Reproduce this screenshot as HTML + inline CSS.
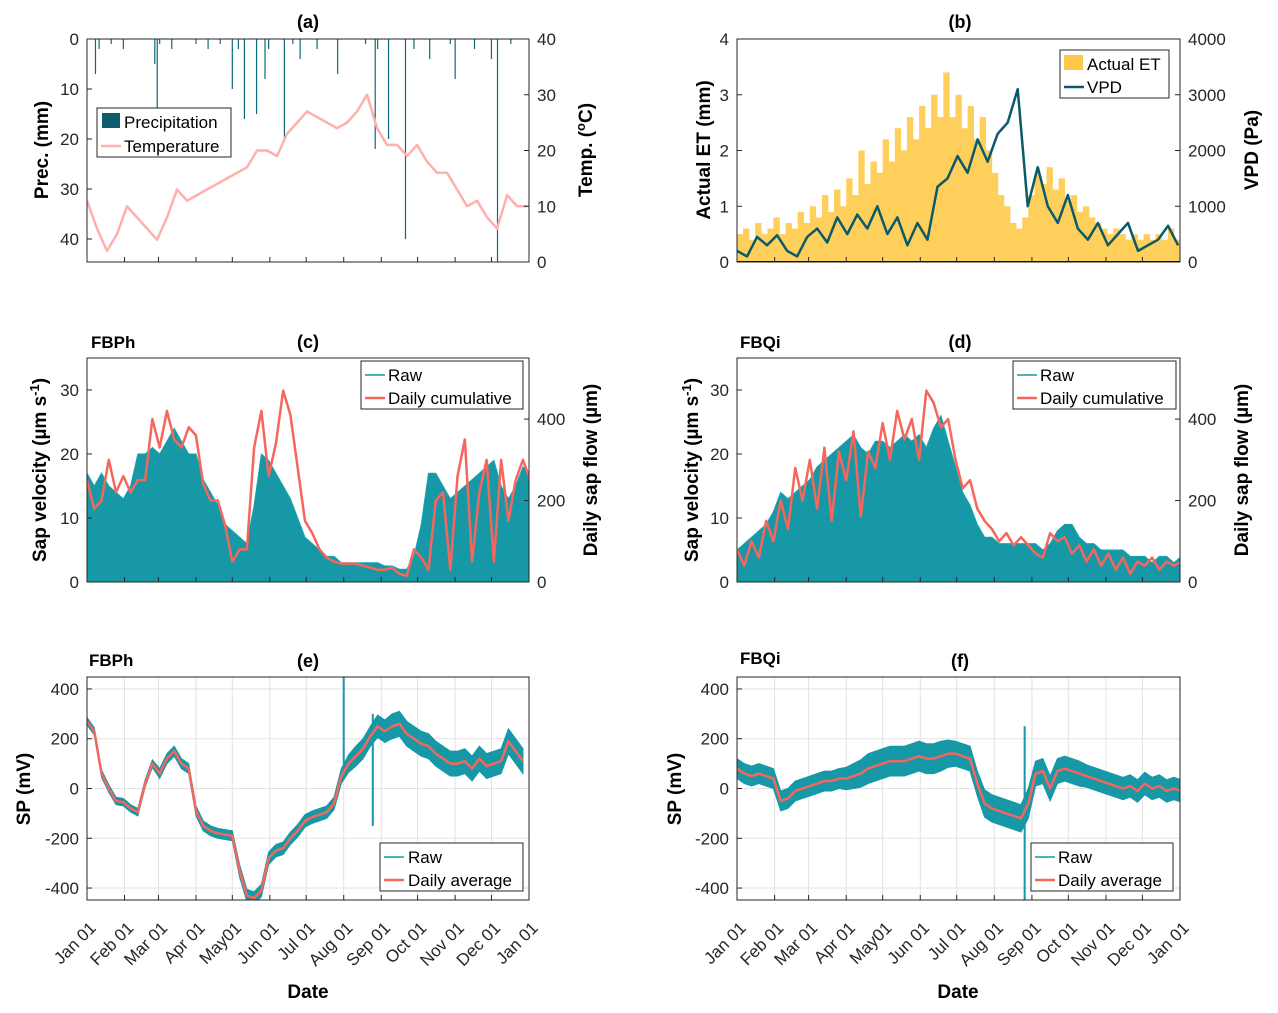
<!DOCTYPE html>
<html><head><meta charset="utf-8">
<style>
body{margin:0;background:#fff;}
svg{display:block;font-family:"Liberation Sans",sans-serif;}
.tk{font-size:17px;fill:#262626;}
.at{font-size:19px;font-weight:bold;fill:#000;}
.tt{font-size:18px;font-weight:bold;fill:#000;}
.lg{font-size:17px;fill:#000;}
</style></head>
<body>
<svg id="fig" width="1278" height="1013" viewBox="0 0 1278 1013">
<g id="layer-marks"></g>
<g id="layer-axes"></g>
<g>
<text class="tt" x="308" y="28" text-anchor="middle">(a)</text>
<text class="tt" x="960" y="28" text-anchor="middle">(b)</text>
<text class="tt" x="308" y="348" text-anchor="middle">(c)</text>
<text class="tt" x="960" y="348" text-anchor="middle">(d)</text>
<text class="tt" x="308" y="667" text-anchor="middle">(e)</text>
<text class="tt" x="960" y="667" text-anchor="middle">(f)</text>
<text class="tt" x="91" y="348" style="font-size:17px">FBPh</text>
<text class="tt" x="740" y="348" style="font-size:17px">FBQi</text>
<text class="tt" x="89" y="666" style="font-size:17px">FBPh</text>
<text class="tt" x="740" y="664" style="font-size:17px">FBQi</text>
</g>
<g>
<text class="at" transform="translate(48,150) rotate(-90)" text-anchor="middle">Prec. (mm)</text>
<text class="at" transform="translate(592,150) rotate(-90)" text-anchor="middle">Temp. (<tspan baseline-shift="super" font-size="13">o</tspan>C)</text>
<text class="at" transform="translate(710,150) rotate(-90)" text-anchor="middle">Actual ET (mm)</text>
<text class="at" transform="translate(1258,150) rotate(-90)" text-anchor="middle">VPD (Pa)</text>
<text class="at" transform="translate(46,470) rotate(-90)" text-anchor="middle">Sap velocity (µm s<tspan baseline-shift="super" font-size="13">-1</tspan>)</text>
<text class="at" transform="translate(597,470) rotate(-90)" text-anchor="middle">Daily sap flow (µm)</text>
<text class="at" transform="translate(698,470) rotate(-90)" text-anchor="middle">Sap velocity (µm s<tspan baseline-shift="super" font-size="13">-1</tspan>)</text>
<text class="at" transform="translate(1248,470) rotate(-90)" text-anchor="middle">Daily sap flow (µm)</text>
<text class="at" transform="translate(30,789) rotate(-90)" text-anchor="middle">SP (mV)</text>
<text class="at" transform="translate(681,789) rotate(-90)" text-anchor="middle">SP (mV)</text>
<text class="at" x="308" y="998" text-anchor="middle">Date</text>
<text class="at" x="958" y="998" text-anchor="middle">Date</text>
</g>
<g>
<rect x="97" y="108" width="134" height="49" fill="#fff" stroke="#262626"/>
<rect x="102" y="113" width="18" height="15" fill="#0d5c6b"/>
<text class="lg" x="124" y="128">Precipitation</text>
<line x1="101" y1="146" x2="121" y2="146" stroke="#ffb0ac" stroke-width="2.5"/>
<text class="lg" x="124" y="152">Temperature</text>
</g>
<g>
<rect x="1060" y="50" width="109" height="48" fill="#fff" stroke="#262626"/>
<rect x="1064" y="55" width="19" height="15" fill="#ffc84a"/>
<text class="lg" x="1087" y="70">Actual ET</text>
<line x1="1064" y1="87" x2="1084" y2="87" stroke="#0b5a69" stroke-width="2.5"/>
<text class="lg" x="1087" y="93">VPD</text>
</g>
<g>
<rect x="361" y="361" width="162" height="48" fill="#fff" stroke="#262626"/>
<line x1="365" y1="375" x2="385" y2="375" stroke="#1698a6" stroke-width="1.5"/>
<text class="lg" x="388" y="381">Raw</text>
<line x1="365" y1="398" x2="385" y2="398" stroke="#f5665c" stroke-width="2.5"/>
<text class="lg" x="388" y="404">Daily cumulative</text>
</g>
<g>
<rect x="1013" y="361" width="163" height="48" fill="#fff" stroke="#262626"/>
<line x1="1017" y1="375" x2="1037" y2="375" stroke="#1698a6" stroke-width="1.5"/>
<text class="lg" x="1040" y="381">Raw</text>
<line x1="1017" y1="398" x2="1037" y2="398" stroke="#f5665c" stroke-width="2.5"/>
<text class="lg" x="1040" y="404">Daily cumulative</text>
</g>
<g>
<rect x="380" y="843" width="143" height="48" fill="#fff" stroke="#262626"/>
<line x1="384" y1="857" x2="404" y2="857" stroke="#1698a6" stroke-width="1.5"/>
<text class="lg" x="408" y="863">Raw</text>
<line x1="384" y1="880" x2="404" y2="880" stroke="#f5665c" stroke-width="2.5"/>
<text class="lg" x="408" y="886">Daily average</text>
</g>
<g>
<rect x="1031" y="843" width="142" height="48" fill="#fff" stroke="#262626"/>
<line x1="1035" y1="857" x2="1055" y2="857" stroke="#1698a6" stroke-width="1.5"/>
<text class="lg" x="1058" y="863">Raw</text>
<line x1="1035" y1="880" x2="1055" y2="880" stroke="#f5665c" stroke-width="2.5"/>
<text class="lg" x="1058" y="886">Daily average</text>
</g>
</svg>
<script>
// ---------- data ----------
const monthDays = [0,31,59,90,120,151,181,212,243,273,304,334,365];
const monthLabels = ["Jan 01","Feb 01","Mar 01","Apr 01","May01","Jun 01","Jul 01","Aug 01","Sep 01","Oct 01","Nov 01","Dec 01","Jan 01"];
const precTicks = [0,10,20,30,40];
const tempTicks = [0,10,20,30,40];
const etTicks = [0,1,2,3,4];
const vpdTicks = [0,1000,2000,3000,4000];
const sapTicks = [0,10,20,30];
const flowTicks = [0,200,400];
const spTicks = [-400,-200,0,200,400];

const precDays = [7,10,20,30,56,58,60,70,90,100,110,120,125,130,140,147,150,163,170,176,190,207,230,238,240,249,263,270,283,300,304,320,334,339,350];
const precVals = [7,2,1,2,5,14,1,2,1,2,1,10,2,16,15,8,2,20,1,4,2,7,1,22,2,20,40,2,4,1,8,2,4,45,1];

const tempStep = 8.26;
const tempVals = [11,6,2,5,10,8,6,4,8,13,11,12,13,14,15,16,17,20,20,19,23,25,27,26,25,24,25,27,30,24,21,21,19,21,18,16,16,13,10,11,8,6,12,10,10];

const etStep = 5;
const etVals = [0.5,0.6,0.4,0.7,0.5,0.6,0.8,0.5,0.7,0.6,0.9,0.7,1.0,0.8,1.2,0.9,1.3,1.0,1.5,1.2,2.0,1.4,1.8,1.6,2.2,1.8,2.4,2.0,2.6,2.2,2.8,2.4,3.0,2.6,3.4,2.6,3.0,2.4,2.8,2.2,2.6,2.0,1.6,1.2,1.0,0.7,0.6,0.8,1.2,1.6,1.4,1.7,1.3,1.5,1.1,1.2,0.9,1.0,0.8,0.7,0.6,0.5,0.6,0.5,0.4,0.5,0.4,0.5,0.4,0.5,0.4,0.6,0.4,0.5];

const vpdStep = 8.26;
const vpdVals = [200,100,450,300,480,200,100,450,600,350,800,500,850,600,1000,500,800,300,700,400,1350,1500,1900,1600,2200,1800,2300,2500,3100,1000,1700,1000,700,1200,600,400,700,300,500,700,200,300,400,650,300];

const sapStep = 6;
const sapRawC = [17,15,17,15,14,13,15,20,20,21,20,22,24,22,20,20,16,14,12,9,8,7,6,12,20,19,17,15,13,10,7,6,5,4,4,3,3,3,3,3,3,2.5,2.5,2,2,4,9,17,17,15,13,14,15,16,17,18,19,15,13,15,18,17];
const sapCumC = [250,180,200,300,220,260,220,250,250,400,330,420,350,330,380,360,240,200,200,140,50,80,80,330,420,260,340,470,410,280,150,120,80,60,50,45,45,45,40,35,30,30,35,20,15,80,60,30,200,220,30,260,350,50,220,300,50,300,150,250,300,250];
const sapRawD = [5,6,7,8,9,11,14,13,14,15,16,18,19,20,21,22,23,21,20,22,22,21,22,23,22,23,21,24,26,22,18,14,12,9,7,7,6,6,6,6,6,6,5,6,8,9,9,7,6,6,5,5,5,5,4,4,4,3,4,4,3,4];
const sapCumD = [80,40,100,60,150,100,200,130,280,200,300,180,330,150,320,250,370,160,320,280,390,300,420,350,400,300,470,440,380,400,300,230,250,180,150,130,100,120,90,110,90,70,60,120,100,110,70,90,50,80,40,70,30,60,20,50,40,60,30,50,40,50];

const spAvgE = [270,230,60,0,-50,-55,-80,-95,20,100,60,120,150,100,80,-90,-150,-170,-180,-185,-190,-330,-430,-440,-410,-280,-250,-240,-200,-170,-130,-115,-105,-95,-60,50,100,130,160,210,250,230,250,260,220,200,180,170,140,120,100,100,110,80,120,90,100,110,190,150,110];
const spSpreadE = [15,15,15,15,15,15,15,15,15,15,20,20,20,20,20,20,20,20,20,20,20,25,25,25,25,25,25,25,25,25,25,25,25,25,25,30,35,40,40,40,45,45,50,50,50,50,50,50,50,50,50,50,50,50,50,50,50,50,50,50,50];
const spikeDaysE = [212,236];
const spikeHiE = [450,300];
const spikeLoE = [100,-150];
const spAvgF = [80,60,50,60,50,40,-50,-40,-10,0,10,20,30,30,40,40,50,60,80,90,100,110,110,110,120,130,120,120,130,140,140,130,120,20,-60,-80,-90,-100,-110,-120,-60,60,70,0,70,80,70,60,50,40,30,20,10,0,10,-10,20,0,10,-10,0,-10];
const spSpreadF = [40,40,40,40,40,40,40,40,40,40,40,40,40,40,40,45,50,55,60,60,60,60,60,60,60,60,60,60,60,55,50,50,50,50,55,55,55,55,55,55,60,50,50,50,50,50,50,50,45,45,45,45,45,45,45,45,45,45,45,45,45,45];
const spikeDaysF = [237];
const spikeHiF = [250];
const spikeLoF = [-450];

// ---------- helpers ----------
const NS = "http://www.w3.org/2000/svg";
const marks = document.getElementById("layer-marks");
const axes = document.getElementById("layer-axes");
function mk(tag, attrs, parent){const e=document.createElementNS(NS,tag);for(const k in attrs)e.setAttribute(k,attrs[k]);parent.appendChild(e);return e;}
function lin(d0,d1,r0,r1){return v=>r0+(v-d0)/(d1-d0)*(r1-r0);}

const P = {
 a:{x0:87,x1:529,y0:39,y1:262}, b:{x0:737,x1:1180,y0:39,y1:262},
 c:{x0:87,x1:529,y0:358,y1:582}, d:{x0:737,x1:1180,y0:358,y1:582},
 e:{x0:87,x1:529,y0:677,y1:900}, f:{x0:737,x1:1180,y0:677,y1:900}
};
for(const k in P){P[k].sx=lin(0,365,P[k].x0,P[k].x1);}
const yPrec=lin(0,44.6,39,262), yTemp=lin(0,40,262,39);
const yET=lin(0,4,262,39), yVPD=lin(0,4000,262,39);
const ySap=lin(0,35,582,358), yFlow=lin(0,550,582,358);
const ySapD=lin(0,35,582,358), yFlowD=lin(0,550,582,358);
const ySP=lin(-448,448,900,677);

function clip(id,p){const cp=mk("clipPath",{id:id},marks);mk("rect",{x:p.x0,y:p.y0,width:p.x1-p.x0,height:p.y1-p.y0},cp);}
["a","b","c","d","e","f"].forEach(k=>clip("clip-"+k,P[k]));

// grids for e,f
["e","f"].forEach(k=>{const p=P[k];
 monthDays.forEach(d=>{const g=mk("line",{x1:p.sx(d),x2:p.sx(d),y1:p.y0,y2:p.y1,stroke:"#e2e2e2","stroke-width":1},marks);
 
 });
 spTicks.forEach(v=>{const g=mk("line",{x1:p.x0,x2:p.x1,y1:ySP(v),y2:ySP(v),stroke:"#e2e2e2","stroke-width":1},marks);
 
 });
});

// panel a
const ga=mk("g",{"clip-path":"url(#clip-a)"},marks);
precDays.forEach((d,i)=>{const x=P.a.sx(d);const l=mk("line",{x1:x,x2:x,y1:yPrec(0),y2:yPrec(precVals[i]),stroke:"#0d6a78","stroke-width":1.2},ga);
 
 });
let pts=tempVals.map((v,i)=>P.a.sx(i*tempStep)+","+yTemp(v)).join(" ");
let tl=mk("polyline",{points:pts,fill:"none",stroke:"#ffb0ac","stroke-width":2.5,"stroke-linejoin":"round"},ga);



// panel b
const gb=mk("g",{"clip-path":"url(#clip-b)"},marks);
etVals.forEach((v,i)=>{const xa=P.b.sx(i*etStep),xb=P.b.sx((i+1)*etStep);const r=mk("rect",{x:xa,y:yET(v),width:xb-xa+0.3,height:yET(0)-yET(v),fill:"#ffcf5c"},gb);
 
 });
pts=vpdVals.map((v,i)=>P.b.sx(i*vpdStep)+","+yVPD(v)).join(" ");
tl=mk("polyline",{points:pts,fill:"none",stroke:"#0b5a69","stroke-width":2.5,"stroke-linejoin":"round"},gb);


const b0=mk("line",{x1:P.b.x0,x2:P.b.x1,y1:262,y2:262,stroke:"#000","stroke-width":2},gb);



// panels c,d
function sapPanel(k,raw,cum,yl,yr){const p=P[k];const g=mk("g",{"clip-path":"url(#clip-"+k+")"},marks);
 let s=p.sx(0)+","+yl(0)+" ";raw.forEach((v,i)=>{s+=p.sx(i*sapStep)+","+yl(v)+" ";});s+=p.sx((raw.length-1)*sapStep)+","+yl(0);
 const a=mk("polygon",{points:s,fill:"#1698a6",stroke:"#1ba3b0","stroke-width":1},g);
 
 
 const l=mk("polyline",{points:cum.map((v,i)=>p.sx(i*sapStep)+","+yr(v)).join(" "),fill:"none",stroke:"#f5665c","stroke-width":2.5,"stroke-linejoin":"round"},g);
 
 }
sapPanel("c",sapRawC,sapCumC,ySap,yFlow);
sapPanel("d",sapRawD,sapCumD,ySapD,yFlowD);

// panels e,f
function spPanel(k,avg,spread,sd,sh,sl){const p=P[k];const g=mk("g",{"clip-path":"url(#clip-"+k+")"},marks);
 const up=avg.map((v,i)=>p.sx(i*sapStep)+","+ySP(v+spread[i]));
 const lo=avg.map((v,i)=>p.sx(i*sapStep)+","+ySP(v-spread[i])).reverse();
 const a=mk("polygon",{points:up.concat(lo).join(" "),fill:"#1698a6",stroke:"#1698a6","stroke-width":1},g);
 
 
 sd.forEach((d,i)=>{const s=mk("line",{x1:p.sx(d),x2:p.sx(d),y1:ySP(sh[i]),y2:ySP(sl[i]),stroke:"#1698a6","stroke-width":2},g);
 
 });
 const l=mk("polyline",{points:avg.map((v,i)=>p.sx(i*sapStep)+","+ySP(v)).join(" "),fill:"none",stroke:"#f5665c","stroke-width":2.5,"stroke-linejoin":"round"},g);
 
 }
spPanel("e",spAvgE,spSpreadE,spikeDaysE,spikeHiE,spikeLoE);
spPanel("f",spAvgF,spSpreadF,spikeDaysF,spikeHiF,spikeLoF);

// axes
function yTicks(p,ticks,f,side,name){ticks.forEach(v=>{const y=f(v);const x=side==="l"?p.x0:p.x1;const dx=side==="l"?5:-5;
 const t=mk("line",{x1:x,x2:x+dx,y1:y,y2:y,stroke:"#262626"},axes);
 
 
 const tx=mk("text",{x:side==="l"?x-8:x+8,y:y+6,"text-anchor":side==="l"?"end":"start",class:"tk"},axes);tx.textContent=v;
 
 });}
for(const k in P){const p=P[k];
 const b=mk("rect",{x:p.x0,y:p.y0,width:p.x1-p.x0,height:p.y1-p.y0,fill:"none",stroke:"#262626","stroke-width":1},axes);
 
 
 monthDays.forEach((d,i)=>{const x=p.sx(d);
  const t=mk("line",{x1:x,x2:x,y1:p.y1,y2:p.y1-5,stroke:"#262626"},axes);
  
  
  if(k==="e"||k==="f"){const tx=mk("text",{class:"tk","text-anchor":"end",transform:"translate("+(x+10)+","+(p.y1+29)+") rotate(-45)"},axes);tx.textContent=monthLabels[i];
   
   }
 });}
yTicks(P.a,precTicks,yPrec,"l","prec-axis");
yTicks(P.a,tempTicks,yTemp,"r","temp-axis");
yTicks(P.b,etTicks,yET,"l","et-axis");
yTicks(P.b,vpdTicks,yVPD,"r","vpd-axis");
yTicks(P.c,sapTicks,ySap,"l","sap-axis-c");
yTicks(P.c,flowTicks,yFlow,"r","flow-axis-c");
yTicks(P.d,sapTicks,ySapD,"l","sap-axis-d");
yTicks(P.d,flowTicks,yFlowD,"r","flow-axis-d");
yTicks(P.e,spTicks,ySP,"l","sp-axis-e");
yTicks(P.f,spTicks,ySP,"l","sp-axis-f");
</script>
</body></html>
